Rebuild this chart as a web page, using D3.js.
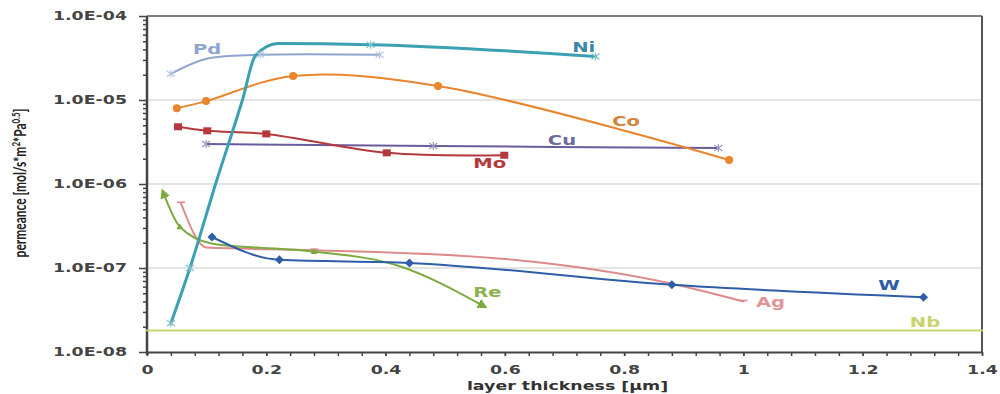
<!DOCTYPE html>
<html>
<head>
<meta charset="utf-8">
<script src="https://cdn.jsdelivr.net/npm/d3@7"></script>
<style>
  html, body { margin: 0; padding: 0; background: #fff; }
  svg { display: block; }
</style>
</head>
<body>
<div id="chart"></div>
<script>
// layer thickness [µm] vs permeance, one small array per metal
const pd = [[0.04, 2.05e-5], [0.1, 3.1e-5], [0.19, 3.45e-5], [0.39, 3.45e-5]];
const ni = [[0.04, 2.2e-8], [0.072, 1.0e-7], [0.115, 1.0e-6], [0.16, 1.0e-5], [0.182, 3.4e-5],
            [0.22, 4.7e-5], [0.375, 4.55e-5], [0.752, 3.3e-5]];
const co = [[0.05, 8.0e-6], [0.099, 9.7e-6], [0.245, 1.93e-5], [0.488, 1.47e-5], [0.976, 1.93e-6]];
const cu = [[0.099, 3.0e-6], [0.48, 2.83e-6], [0.958, 2.68e-6]];
const mo = [[0.052, 4.8e-6], [0.101, 4.3e-6], [0.2, 3.95e-6], [0.402, 2.35e-6], [0.599, 2.2e-6]];
const w  = [[0.109, 2.34e-7], [0.222, 1.25e-7], [0.44, 1.15e-7], [0.88, 6.3e-8], [1.302, 4.5e-8]];
const ag = [[0.057, 5.9e-7], [0.1, 1.75e-7], [0.28, 1.63e-7], [0.6, 1.28e-7], [0.88, 6.5e-8], [1.0, 4.0e-8]];
const re = [[0.027, 8.0e-7], [0.055, 3.1e-7], [0.11, 1.95e-7], [0.28, 1.57e-7], [0.42, 1.07e-7], [0.565, 3.5e-8]];
const nb = [[0, 1.8e-8], [1.4, 1.8e-8]];

const x_ticks = [0, 0.2, 0.4, 0.6, 0.8, 1, 1.2, 1.4];
const y_ticks = [1e-8, 1e-7, 1e-6, 1e-5, 1e-4];
const y_tick_labels = ["1.0E-08", "1.0E-07", "1.0E-06", "1.0E-05", "1.0E-04"];

const smooth = d3.curveCatmullRom.alpha(0.5), mono = d3.curveMonotoneX;

// marks: indices of the points that show a marker
const series = [
    {name: "Nb", data: nb, color: "#c8d56c", marker: "none", width: 2, curve: d3.curveLinear},
    {name: "Pd", data: pd, color: "#8ea6cf", marker: "star", width: 2, curve: smooth, marks: [0, 2, 3]},
    {name: "Cu", data: cu, color: "#6b5b9c", marker: "star", width: 2, curve: smooth},
    {name: "Co", data: co, color: "#e9852c", marker: "circle", width: 2, curve: smooth},
    {name: "Mo", data: mo, color: "#b4383c", marker: "square", width: 2, curve: smooth},
    {name: "Ag", data: ag, color: "#dd8a8a", marker: "dash", width: 2, curve: mono, marks: [0, 2, 5]},
    {name: "Re", data: re, color: "#7bab3e", marker: "triangle", width: 2, curve: mono, marks: [1, 3], arrows: true},
    {name: "W",  data: w,  color: "#2f5ea8", marker: "diamond", width: 2, curve: mono},
    {name: "Ni", data: ni, color: "#3aa0b2", marker: "star", width: 3, curve: mono, marks: [0, 1, 6, 7]},
];

// series labels, anchored at their left baseline in data units
const labels = [
    {text: "Pd", x: 0.077, y: 3.53e-5, color: "#8ea6cf"},
    {text: "Ni", x: 0.713, y: 3.73e-5, color: "#3d86a8"},
    {text: "Co", x: 0.780, y: 4.9e-6,  color: "#d4823a"},
    {text: "Cu", x: 0.672, y: 2.91e-6, color: "#6e6a9c"},
    {text: "Mo", x: 0.547, y: 1.55e-6, color: "#b4383c"},
    {text: "Re", x: 0.547, y: 4.52e-8, color: "#8bb24e"},
    {text: "W",  x: 1.226, y: 5.47e-8, color: "#2f5ea8"},
    {text: "Ag", x: 1.021, y: 3.44e-8, color: "#e39595"},
    {text: "Nb", x: 1.279, y: 1.99e-8, color: "#cbd36e"},
];

const W = 1000, H = 394;
const pl = 147, pr = 982, pt = 16, pb = 352;
const stretch = 1.45;   // the original picture is widened sideways

const svg = d3.select("#chart").append("svg").attr("width", W).attr("height", H);

const x = d3.scaleLinear().domain([0, 1.4]).range([pl, pr]);
const y = d3.scaleLog().domain([1e-8, 1e-4]).range([pb, pt]);

// gridlines
svg.append("g").selectAll("line").data(y_ticks.slice(1, -1)).enter().append("line")
    .attr("x1", pl).attr("x2", pr)
    .attr("y1", d => y(d)).attr("y2", d => y(d))
    .style("stroke", "#c9c9c9").style("stroke-width", 1.2);

// frame
svg.append("line").attr("x1", pl).attr("x2", pr).attr("y1", pt).attr("y2", pt)
    .style("stroke", "#555").style("stroke-width", 1.5);
svg.append("line").attr("x1", pr).attr("x2", pr).attr("y1", pt).attr("y2", pb)
    .style("stroke", "#555").style("stroke-width", 2);

// axis_x minor + major
const x_minor = d3.range(0, 1.4001, 0.04);
svg.append("g").attr("transform", `translate(0, ${pb})`)
    .call(d3.axisBottom(x).tickValues(x_minor).tickSize(4).tickFormat(""))
    .call(g => g.select(".domain").remove())
    .selectAll("line").style("stroke", "#444").style("stroke-width", 1.5);

const axis_x = svg.append("g").attr("transform", `translate(0, ${pb})`)
    .call(d3.axisBottom(x).tickValues(x_ticks).tickSize(4).tickSizeOuter(0).tickPadding(8)
        .tickFormat(d => String(+d.toFixed(1))));
axis_x.select(".domain").style("stroke", "#444").style("stroke-width", 2);
axis_x.selectAll("line").style("stroke", "#444").style("stroke-width", 1.5);
axis_x.selectAll("text")
    .attr("y", 0).attr("dy", 0)
    .attr("transform", `translate(0, 22) scale(${stretch}, 1)`)
    .style("font-family", "DejaVu Sans").style("font-weight", "bold").style("font-size", "12px")
    .style("fill", "#444");

// axis_y minor + major
const y_minor = [];
[1e-8, 1e-7, 1e-6, 1e-5].forEach(dec => d3.range(2, 10).forEach(k => y_minor.push(dec * k)));
svg.append("g").attr("transform", `translate(${pl}, 0)`)
    .call(d3.axisLeft(y).tickValues(y_minor).tickSize(4).tickFormat(""))
    .call(g => g.select(".domain").remove())
    .selectAll("line").style("stroke", "#444").style("stroke-width", 1.5);

const axis_y = svg.append("g").attr("transform", `translate(${pl}, 0)`)
    .call(d3.axisLeft(y).tickValues(y_ticks).tickSize(8).tickSizeOuter(0)
        .tickFormat((d, i) => y_tick_labels[i]));
axis_y.select(".domain").attr("d", `M0,${pt}V${pb + 3}`).style("stroke", "#444").style("stroke-width", 2.5);
axis_y.selectAll("line").style("stroke", "#444").style("stroke-width", 1.5);
axis_y.selectAll("text")
    .attr("x", 0)
    .attr("transform", `translate(-20, 0) scale(${stretch}, 1)`)
    .style("font-family", "DejaVu Sans").style("font-weight", "bold").style("font-size", "12px")
    .style("fill", "#444");

// axis titles
svg.append("text")
    .attr("transform", `translate(${(pl + pr) / 2 + 3}, 390) scale(${stretch}, 1)`)
    .attr("text-anchor", "middle")
    .style("font-family", "DejaVu Sans").style("font-weight", "bold").style("font-size", "12px")
    .style("fill", "#333")
    .text("layer thickness [µm]");

const y_title = svg.append("text")
    .attr("transform", `translate(26, 183) rotate(-90) scale(1, ${stretch})`)
    .attr("text-anchor", "middle")
    .style("font-family", "Lato").style("font-weight", "bold").style("font-size", "12px")
    .style("fill", "#222");
y_title.append("tspan").text("permeance [mol/s*m");
y_title.append("tspan").attr("dy", -4).style("font-size", "8px").text("2");
y_title.append("tspan").attr("dy", 4).text("*Pa");
y_title.append("tspan").attr("dy", -4).style("font-size", "8px").text("0.5");
y_title.append("tspan").attr("dy", 4).text("]");

// arrowheads for the Re line
const defs = svg.append("defs");
defs.append("marker").attr("id", "arrow_re")
    .attr("viewBox", "0 0 10 10").attr("refX", 6).attr("refY", 5)
    .attr("markerWidth", 5).attr("markerHeight", 5)
    .attr("markerUnits", "strokeWidth")
    .attr("orient", "auto-start-reverse")
    .append("path").attr("d", "M0,0 L10,5 L0,10 z").style("fill", "#7bab3e");

// lines
const lines = svg.append("g");
series.forEach(s => {
    const line = d3.line().x(d => x(d[0])).y(d => y(d[1])).curve(s.curve);
    const path = lines.append("path").datum(s.data)
        .attr("d", line)
        .style("fill", "none")
        .style("stroke", s.color)
        .style("stroke-width", s.width)
        .style("stroke-linecap", "round")
        .style("stroke-linejoin", "round");
    if (s.arrows) path.attr("marker-start", "url(#arrow_re)").attr("marker-end", "url(#arrow_re)");
});

// markers
const marks = svg.append("g");
series.forEach(s => {
    const pts = s.marks ? s.marks.map(i => s.data[i]) : s.data;
    const g = marks.append("g");
    pts.forEach(d => {
        const cx = x(d[0]), cy = y(d[1]);
        if (s.marker === "circle") {
            g.append("circle").attr("cx", cx).attr("cy", cy).attr("r", 4).style("fill", s.color);
        } else if (s.marker === "square") {
            g.append("rect").attr("x", cx - 4).attr("y", cy - 3.5).attr("width", 8).attr("height", 7).style("fill", s.color);
        } else if (s.marker === "diamond") {
            g.append("path").attr("d", `M${cx},${cy - 4.5}L${cx + 4.5},${cy}L${cx},${cy + 4.5}L${cx - 4.5},${cy}Z`).style("fill", s.color);
        } else if (s.marker === "triangle") {
            g.append("path").attr("d", `M${cx},${cy - 3.5}L${cx + 3.5},${cy + 2.5}L${cx - 3.5},${cy + 2.5}Z`).style("fill", s.color);
        } else if (s.marker === "dash") {
            g.append("line").attr("x1", cx - 4).attr("x2", cx + 4).attr("y1", cy - 1).attr("y2", cy - 1)
                .style("stroke", s.color).style("stroke-width", 1.5);
        } else if (s.marker === "star") {
            const c = d3.interpolateRgb(s.color, "#fff")(0.35);
            g.append("path")
                .attr("d", `M${cx - 4},${cy - 3}L${cx + 4},${cy + 3}M${cx - 4},${cy + 3}L${cx + 4},${cy - 3}M${cx},${cy - 4}V${cy + 4}`)
                .style("stroke", c).style("stroke-width", 1.2).style("fill", "none");
        }
    });
});

// series labels
svg.append("g").selectAll("text").data(labels).enter().append("text")
    .attr("transform", d => `translate(${x(d.x)}, ${y(d.y)}) scale(${stretch}, 1)`)
    .style("font-family", "DejaVu Sans").style("font-weight", "bold").style("font-size", "13.5px")
    .style("fill", d => d.color)
    .text(d => d.text);
</script>
</body>
</html>
